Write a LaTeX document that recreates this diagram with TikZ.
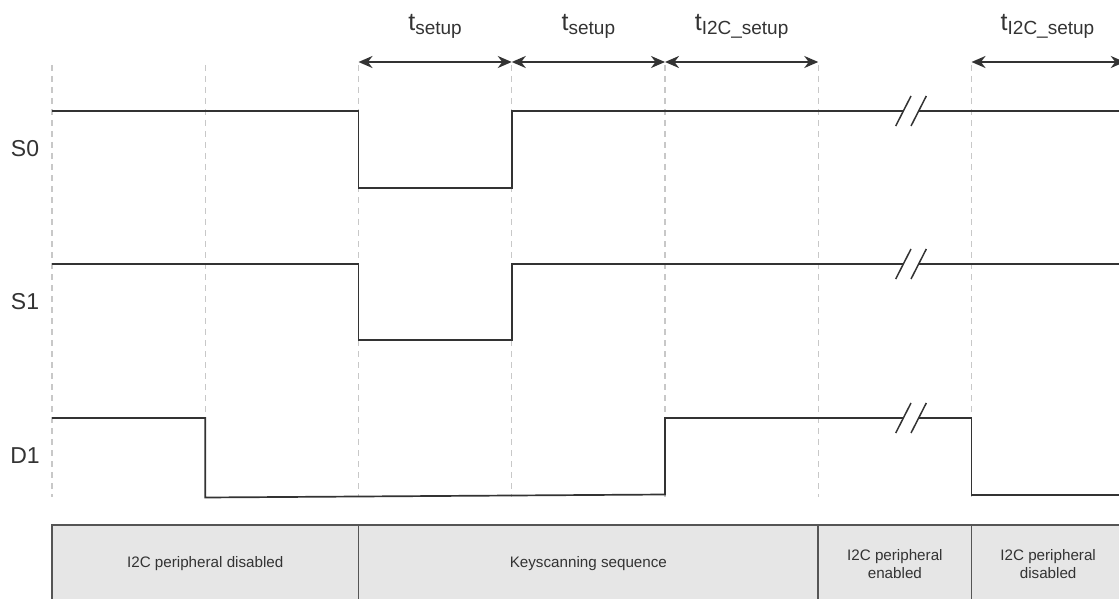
\documentclass[tikz,border=0pt]{standalone}
\usepackage{fontspec}
\setmainfont{Liberation Sans}
\usetikzlibrary{arrows.meta}
\definecolor{sig}{HTML}{333333}
\definecolor{gridc}{HTML}{C8C8C8}
\definecolor{boxfill}{HTML}{E6E6E6}
\definecolor{boxline}{HTML}{555555}
\newcommand\mysub[1]{\raisebox{-3.5pt}{\fontsize{19}{19}\selectfont #1}}
\begin{document}
\begin{tikzpicture}[x=1pt,y=-1pt,
  gridline/.style={draw=gridc, line width=1.3pt, dash pattern=on 6pt off 5pt},
  signal/.style={draw=sig, line width=1.7pt, line join=miter},
  dim/.style={draw=sig, line width=2pt,
    {Stealth[length=14pt,width=12pt,inset=4.5pt]}-{Stealth[length=14pt,width=12pt,inset=4.5pt]}},
  breakline/.style={draw=sig, line width=1.5pt},
  tlabel/.style={font=\fontsize{25}{25}\selectfont, text=sig, anchor=base, inner sep=0pt},
  siglabel/.style={font=\fontsize{23}{23}\selectfont, text=sig},
  phase/.style={draw=boxline, fill=boxfill, line width=1.6pt, text=sig,
    font=\fontsize{15.2}{18.7}\selectfont, align=center, inner sep=0pt,
    minimum height=78pt},
  brk/.pic={\draw[breakline] (-7.65,15) -- (7.65,-15) (7.65,15) -- (22.95,-15);}
]
\useasboundingbox (0,0) rectangle (1119,599);
\clip (0,0) rectangle (1119,599);

% grid columns
\coordinate (g0) at (52,0);
\coordinate (g1) at (205.25,0);
\coordinate (g2) at (358.5,0);
\coordinate (g3) at (511.75,0);
\coordinate (g4) at (665,0);
\coordinate (g5) at (818.25,0);
\coordinate (g6) at (971.5,0);
\coordinate (g7) at (1124.75,0);
\coordinate (bL) at (903.35,0);
\coordinate (bR) at (918.65,0);

% levels
\coordinate (top) at (0,65);
\coordinate (bot) at (0,497);
\coordinate (A) at (0,62);
\coordinate (S0h) at (0,111);
\coordinate (S0l) at (0,188);
\coordinate (S1h) at (0,264);
\coordinate (S1l) at (0,340);
\coordinate (D1h) at (0,418);
\coordinate (D1l) at (0,495);

% dashed grid lines
\foreach \i in {0,...,6}
  \draw[gridline] (g\i |- top) -- (g\i |- bot);

% timing dimension arrows
\draw[dim] (g2 |- A) -- (g3 |- A);
\draw[dim] (g3 |- A) -- (g4 |- A);
\draw[dim] (g4 |- A) -- (g5 |- A);
\draw[dim] (g6 |- A) -- (g7 |- A);

\node[tlabel] (t1) at (435.1,31) {t\mysub{setup}};
\node[tlabel] (t2) at (588.4,31) {t\mysub{setup}};
\node[tlabel] (t3) at (741.6,31) {t\mysub{I2C\_setup}};
\node[tlabel] (t4) at (1047.5,31) {t\mysub{I2C\_setup}};

% signal names
\node[siglabel] (nS0) at (25,149) {S0};
\node[siglabel] (nS1) at (25,302) {S1};
\node[siglabel] (nD1) at (25,456) {D1};

% S0
\draw[signal] (g0 |- S0h) -- (g2 |- S0h) -- (g2 |- S0l) -- (g3 |- S0l)
  -- (g3 |- S0h) -- (bL |- S0h);
\draw[signal] (bR |- S0h) -- (g7 |- S0h);
\pic at (bL |- S0h) {brk};

% S1
\draw[signal] (g0 |- S1h) -- (g2 |- S1h) -- (g2 |- S1l) -- (g3 |- S1l)
  -- (g3 |- S1h) -- (bL |- S1h);
\draw[signal] (bR |- S1h) -- (g7 |- S1h);
\pic at (bL |- S1h) {brk};

% D1
\draw[signal] (g0 |- D1h) -- (g1 |- D1h) -- ([yshift=-2.5pt]g1 |- D1l)
  -- ([yshift=0.5pt]g4 |- D1l) -- (g4 |- D1h) -- (bL |- D1h);
\draw[signal] (bR |- D1h) -- (g6 |- D1h) -- (g6 |- D1l) -- (g7 |- D1l);
\pic at (bL |- D1h) {brk};

% phase boxes
\node[phase, minimum width=306.5pt] (p1) at (205.25,564) {I2C peripheral disabled};
\node[phase, minimum width=459.75pt] (p2) at (588.375,564) {Keyscanning sequence};
\node[phase, minimum width=153.25pt] (p3) at (894.875,564) {I2C peripheral\\enabled};
\node[phase, minimum width=153.25pt] (p4) at (1048.125,564) {I2C peripheral\\disabled};
\end{tikzpicture}
\end{document}
